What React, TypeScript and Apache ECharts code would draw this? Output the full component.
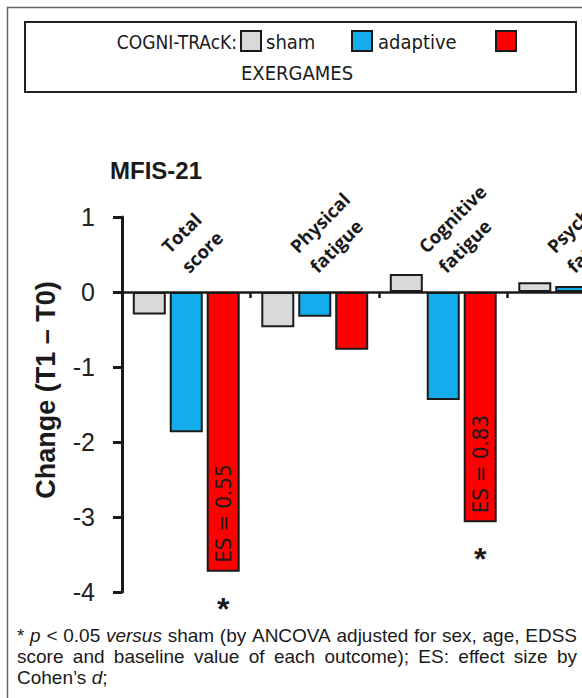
import React, { useEffect, useRef } from "react";
import * as echarts from "echarts";

// ---------- data ----------
const categories = ["Total\nscore", "Physical\nfatigue", "Cognitive\nfatigue", "Psychosocial\nfatigue"];
const groupNames = ["sham", "adaptive", "EXERGAMES"];
const shamChange = [-0.3, -0.47, 0.24, 0.13];
const adaptiveChange = [-1.87, -0.33, -1.44, 0.08];
const exergamesChange: (number | null)[] = [-3.73, -0.77, -3.07, null];
const effectSizeLabels = ["ES = 0.55", "", "ES = 0.83", ""];
const significanceMarks = ["*", "", "*", ""];
const yMin = -4;
const yMax = 1;
const yStep = 1;
const legendPrefix = "COGNI-TRAcK:";
const panelTitle = "MFIS-21";
const yAxisTitle = "Change (T1 – T0)";
const footLine1 = [["*", 0], ["p", 1], ["<", 0], ["0.05", 0], ["versus", 1], ["sham", 0], ["(by", 0], ["ANCOVA", 0], ["adjusted", 0], ["for", 0], ["sex,", 0], ["age,", 0], ["EDSS", 0]] as [string, number][];
const footLine2 = [["score", 0], ["and", 0], ["baseline", 0], ["value", 0], ["of", 0], ["each", 0], ["outcome);", 0], ["ES:", 0], ["effect", 0], ["size", 0], ["by", 0]] as [string, number][];
const footLine3 = [["Cohen’s ", 0], ["d", 1], [";", 0]] as [string, number][];

// ---------- styles ----------
const COLORS = ["#d9d9d9", "#12adea", "#ff0000"];
const EDGE = "#1a1a1a";
const NARROW = "'Liberation Sans Narrow', 'DejaVu Sans Condensed', 'Liberation Sans', sans-serif";
const ARIAL = "'Liberation Sans', Arial, sans-serif";
const BAR_W = 33;
const FOOT_SIZE = 19;

function measure(text: string, italic: boolean) {
  const c = document.createElement("canvas").getContext("2d")!;
  c.font = `${italic ? "italic " : ""}${FOOT_SIZE}px "Liberation Sans"`;
  return c.measureText(text).width;
}

function footnoteElements(): any[] {
  const els: any[] = [];
  const x0 = 17;
  const x1 = 577;
  const place = (tokens: [string, number][], y: number, justify: boolean) => {
    const widths = tokens.map(([t, i]) => measure(t, !!i));
    const total = widths.reduce((a, b) => a + b, 0);
    const gap = justify ? (x1 - x0 - total) / (tokens.length - 1) : 0;
    let x = x0;
    tokens.forEach(([t, i], k) => {
      els.push({
        type: "text",
        x,
        y,
        silent: true,
        style: {
          text: t,
          fontSize: FOOT_SIZE,
          fontFamily: ARIAL,
          fontStyle: i ? "italic" : "normal",
          fill: "#1a1a1a",
          align: "left",
          verticalAlign: "middle",
        },
      });
      x += widths[k] + gap;
    });
  };
  place(footLine1, 635, true);
  place(footLine2, 656, true);
  place(footLine3, 677, false);
  return els;
}

export default function App() {
  const ref = useRef<HTMLDivElement>(null);

  useEffect(() => {
    const chart = echarts.init(ref.current!, undefined, { renderer: "svg" });
    const barBase = {
      type: "bar" as const,
      barWidth: BAR_W,
      barGap: "12%",
      itemStyle: { borderColor: EDGE, borderWidth: 2 },
      silent: true,
    };
    const legendText = (text: string, x: number, y: number, align: string, size: number) => ({
      type: "text",
      x,
      y,
      silent: true,
      style: { text, fontSize: size, fontFamily: NARROW, fill: "#1a1a1a", align, verticalAlign: "middle" },
    });
    const legendSquare = (x: number, color: string) => ({
      type: "rect",
      silent: true,
      shape: { x, y: 31, width: 20, height: 20 },
      style: { fill: color, stroke: EDGE, lineWidth: 2 },
    });
    const graphic: any[] = [
      { type: "rect", shape: { x: 7.5, y: 7.5, width: 720, height: 740 }, style: { fill: "none", stroke: "#666", lineWidth: 1.5 }, silent: true },
      { type: "rect", shape: { x: 25, y: 22, width: 551, height: 70 }, style: { fill: "none", stroke: "#222", lineWidth: 2 }, silent: true },
      legendText(legendPrefix, 237, 42, "right", 19),
      legendSquare(241, COLORS[0]),
      legendText(groupNames[0], 266, 42, "left", 20),
      legendSquare(352, COLORS[1]),
      legendText(groupNames[1], 378, 42, "left", 20),
      legendSquare(496, COLORS[2]),
      legendText(groupNames[2], 297, 73, "center", 20),
      { type: "text", x: 110, y: 170, silent: true, style: { text: panelTitle, fontSize: 24, fontWeight: "bold", fontFamily: ARIAL, fill: "#1a1a1a", align: "left", verticalAlign: "middle" } },
      { type: "text", x: 46, y: 390, rotation: Math.PI / 2, silent: true, style: { text: yAxisTitle, fontSize: 27, fontWeight: "bold", fontFamily: ARIAL, fill: "#1a1a1a", align: "center", verticalAlign: "middle" } },
      ...footnoteElements(),
    ];

    chart.setOption({
      animation: false,
      backgroundColor: "#ffffff",
      grid: { left: 122, top: 217, width: 514, height: 375, containLabel: false },
      xAxis: {
        type: "category",
        data: categories,
        axisLine: { onZero: true, lineStyle: { color: EDGE, width: 2.5 } },
        axisTick: { show: true, length: 6, lineStyle: { color: EDGE, width: 2.5 } },
        axisLabel: { show: false },
        splitLine: { show: false },
      },
      yAxis: {
        type: "value",
        min: yMin,
        max: yMax,
        interval: yStep,
        axisLine: { show: true, lineStyle: { color: EDGE, width: 3 } },
        axisTick: { show: true, length: 9, lineStyle: { color: EDGE, width: 3 } },
        axisLabel: { fontSize: 25, fontFamily: ARIAL, color: "#222", margin: 27 },
        splitLine: { show: false },
      },
      series: [
        { ...barBase, name: groupNames[0], data: shamChange, itemStyle: { ...barBase.itemStyle, color: COLORS[0] } },
        { ...barBase, name: groupNames[1], data: adaptiveChange, itemStyle: { ...barBase.itemStyle, color: COLORS[1] } },
        {
          ...barBase,
          name: groupNames[2],
          data: exergamesChange,
          itemStyle: { ...barBase.itemStyle, color: COLORS[2] },
          label: {
            show: true,
            position: "insideBottom",
            rotate: 90,
            align: "left",
            verticalAlign: "middle",
            distance: 9,
            formatter: (p: any) => effectSizeLabels[p.dataIndex] || "",
            fontSize: 22,
            fontFamily: NARROW,
            color: "#1a1a1a",
          },
        },
        {
          type: "custom",
          name: "categoryLabels",
          silent: true,
          z: 5,
          data: categories.map((_, i) => [i, 0]),
          renderItem: (params: any, api: any) => {
            const p = api.coord([api.value(0), 0]);
            return {
              type: "text",
              x: p[0] - 12,
              y: p[1] - 33,
              rotation: Math.PI / 4,
              style: {
                text: categories[params.dataIndex],
                fontSize: 18.5,
                fontWeight: "bold",
                fontFamily: "'Open Sans', 'Liberation Sans', sans-serif",
                lineHeight: 28,
                fill: "#1a1a1a",
                align: "left",
                verticalAlign: "middle",
              },
            };
          },
        },
        {
          type: "custom",
          name: "significance",
          silent: true,
          z: 5,
          data: exergamesChange.map((v, i) => [i, v ?? 0]),
          renderItem: (params: any, api: any) => {
            const mark = significanceMarks[params.dataIndex];
            if (!mark) return null;
            const p = api.coord([api.value(0), api.value(1)]);
            return {
              type: "text",
              x: p[0] + BAR_W * 1.12,
              y: p[1] + 37,
              style: {
                text: mark,
                fontSize: 32,
                fontWeight: "bold",
                fontFamily: ARIAL,
                fill: "#1a1a1a",
                align: "center",
                verticalAlign: "middle",
              },
            };
          },
        },
      ],
      graphic,
    });
    return () => chart.dispose();
  }, []);

  return (
    <div style={{ position: "fixed", left: 0, top: 0, width: 582, height: 698, overflow: "hidden", background: "#fff" }}>
      <div ref={ref} style={{ width: 740, height: 698 }} />
    </div>
  );
}
